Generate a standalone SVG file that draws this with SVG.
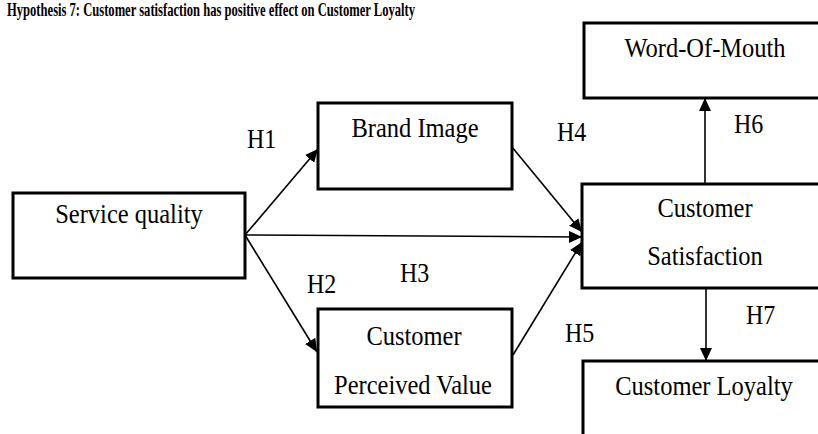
<svg xmlns="http://www.w3.org/2000/svg" width="818" height="434" viewBox="0 0 818 434">
<defs>
<style>
.box{fill:#fff;stroke:#000;stroke-width:3}
text{font-family:'Liberation Serif','DejaVu Serif',serif;fill:#000}
.lbl{font-size:24.5px;text-anchor:middle}
.h{font-size:24px}
.con{stroke:#000;stroke-width:1.6;fill:none;marker-end:url(#ah)}
.cap{font-size:18px;font-weight:bold}
</style>
<marker id="ah" markerUnits="userSpaceOnUse" markerWidth="14" markerHeight="12" viewBox="0 0 14 12" refX="13" refY="6" orient="auto">
<path d="M0,0 L13,6 L0,12 Z" fill="#000"/>
</marker>
</defs>
<rect width="818" height="434" fill="#fff"/>
<text class="cap" x="7" y="16" textLength="408" lengthAdjust="spacingAndGlyphs">Hypothesis 7:  Customer satisfaction has positive effect on Customer Loyalty</text>
<g id="connectors">
<path class="con" d="M245,235 L318,149"/>
<path class="con" d="M245,235 L317,352"/>
<path class="con" d="M245,235 L582,237"/>
<path class="con" d="M512,147 L582,232"/>
<path class="con" d="M513,355 L582,242"/>
<path class="con" d="M705,184 L705,98"/>
<path class="con" d="M706,288 L706,361"/>
</g>
<g id="service-quality">
<rect class="box" x="13" y="193" width="232" height="85"/>
<text class="lbl" transform="translate(129,223) scale(1,1.13)">Service quality</text>
</g>
<g id="brand-image">
<rect class="box" x="318" y="103" width="194" height="86"/>
<text class="lbl" transform="translate(415,137) scale(1,1.13)">Brand Image</text>
</g>
<g id="customer-perceived-value">
<rect class="box" x="318" y="309" width="194" height="98"/>
<text class="lbl" transform="translate(414,345) scale(1,1.13)">Customer</text>
<text class="lbl" transform="translate(413,394) scale(1,1.13)">Perceived Value</text>
</g>
<g id="customer-satisfaction">
<rect class="box" x="582" y="184" width="250" height="104"/>
<text class="lbl" transform="translate(705,217) scale(1,1.13)">Customer</text>
<text class="lbl" transform="translate(705,265) scale(1,1.13)">Satisfaction</text>
</g>
<g id="word-of-mouth">
<rect class="box" x="584" y="23" width="250" height="75"/>
<text class="lbl" transform="translate(705,57) scale(1,1.13)">Word-Of-Mouth</text>
</g>
<g id="customer-loyalty">
<rect class="box" x="583" y="361" width="250" height="90"/>
<text class="lbl" transform="translate(704,395) scale(1,1.13)">Customer Loyalty</text>
</g>
<g id="labels">
<text class="h" transform="translate(247,148) scale(1,1.13)">H1</text>
<text class="h" transform="translate(307,293) scale(1,1.13)">H2</text>
<text class="h" transform="translate(400,282) scale(1,1.13)">H3</text>
<text class="h" transform="translate(557,141) scale(1,1.13)">H4</text>
<text class="h" transform="translate(565,342) scale(1,1.13)">H5</text>
<text class="h" transform="translate(734,133) scale(1,1.13)">H6</text>
<text class="h" transform="translate(746,324) scale(1,1.13)">H7</text>
</g>
</svg>
